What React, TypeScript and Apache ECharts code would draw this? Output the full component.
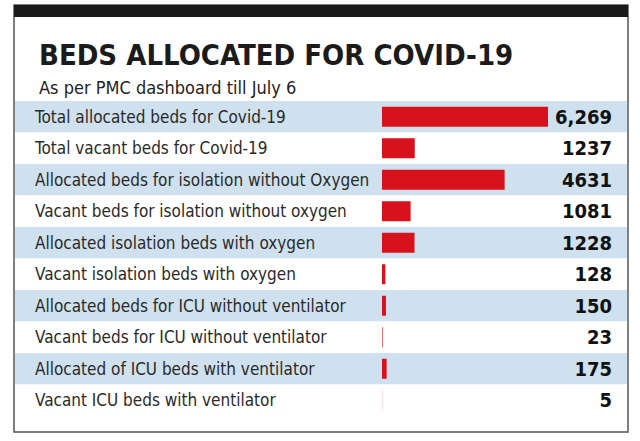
import React, { useEffect, useRef } from "react";
import * as echarts from "echarts";

const titleText = "BEDS ALLOCATED FOR COVID-19";
const subtitleText = "As per PMC dashboard till July 6";
const categories = [
  "Total allocated beds for Covid-19",
  "Total vacant beds for Covid-19",
  "Allocated beds for isolation without Oxygen",
  "Vacant beds for isolation without oxygen",
  "Allocated isolation beds with oxygen",
  "Vacant isolation beds with oxygen",
  "Allocated beds for ICU without ventilator",
  "Vacant beds for ICU without ventilator",
  "Allocated of ICU beds with ventilator",
  "Vacant ICU beds with ventilator",
];
const values = [6269, 1237, 4631, 1081, 1228, 128, 150, 23, 175, 5];
const valueLabels = ["6,269", "1237", "4631", "1081", "1228", "128", "150", "23", "175", "5"];

const FONT = "'Liberation Sans Narrow', 'DejaVu Sans Condensed', 'Liberation Sans', sans-serif";

export default function App() {
  const ref = useRef<HTMLDivElement>(null);
  useEffect(() => {
    if (!ref.current) return;
    const chart = echarts.init(ref.current, undefined, { renderer: "svg" });
    const gridLeft = 15;
    const gridRight = 13;
    const zeroX = 382;
    const unitsPerPx = 6269 / 166;
    const xMin = -(zeroX - gridLeft) * unitsPerPx;
    const xMax = (640 - gridRight - zeroX) * unitsPerPx;
    chart.setOption({
      animation: false,
      backgroundColor: "#ffffff",
      title: {
        text: titleText,
        subtext: subtitleText,
        left: 34,
        top: 35,
        itemGap: 9,
        textStyle: { fontFamily: FONT, fontWeight: "bold", fontSize: 29, color: "#1b1b1b" },
        subtextStyle: { fontFamily: FONT, fontSize: 18, color: "#222" },
      },
      graphic: [
        { type: "rect", shape: { x: 14, y: 5, width: 614, height: 427 }, style: { fill: "none", stroke: "#555", lineWidth: 1.5 }, z: 10 },
        { type: "rect", shape: { x: 14, y: 5, width: 614, height: 12 }, style: { fill: "#1a1a1a" }, z: 10 },
      ],
      grid: { left: gridLeft, right: gridRight, top: 101, bottom: 25 },
      xAxis: { type: "value", min: xMin, max: xMax, show: false },
      yAxis: [
        {
          type: "category",
          data: categories,
          inverse: true,
          axisLine: { show: false },
          axisTick: { show: false },
          splitArea: { show: true, areaStyle: { color: ["#cfe1ee", "#ffffff"] } },
          axisLabel: { inside: true, margin: 20, fontFamily: FONT, fontSize: 17, color: "#2a2a2a" },
        },
        {
          type: "category",
          data: valueLabels,
          inverse: true,
          position: "right",
          axisLine: { show: false },
          axisTick: { show: false },
          axisLabel: { inside: true, margin: 15, fontFamily: FONT, fontWeight: "bold", fontSize: 20, color: "#111" },
        },
      ],
      series: [
        {
          type: "bar",
          data: values,
          barWidth: 20,
          itemStyle: { color: "#d8121c" },
          yAxisIndex: 0,
        },
      ],
    });
    return () => chart.dispose();
  }, []);
  return <div ref={ref} style={{ width: 640, height: 441, position: "absolute", left: 0, top: 0 }} />;
}
